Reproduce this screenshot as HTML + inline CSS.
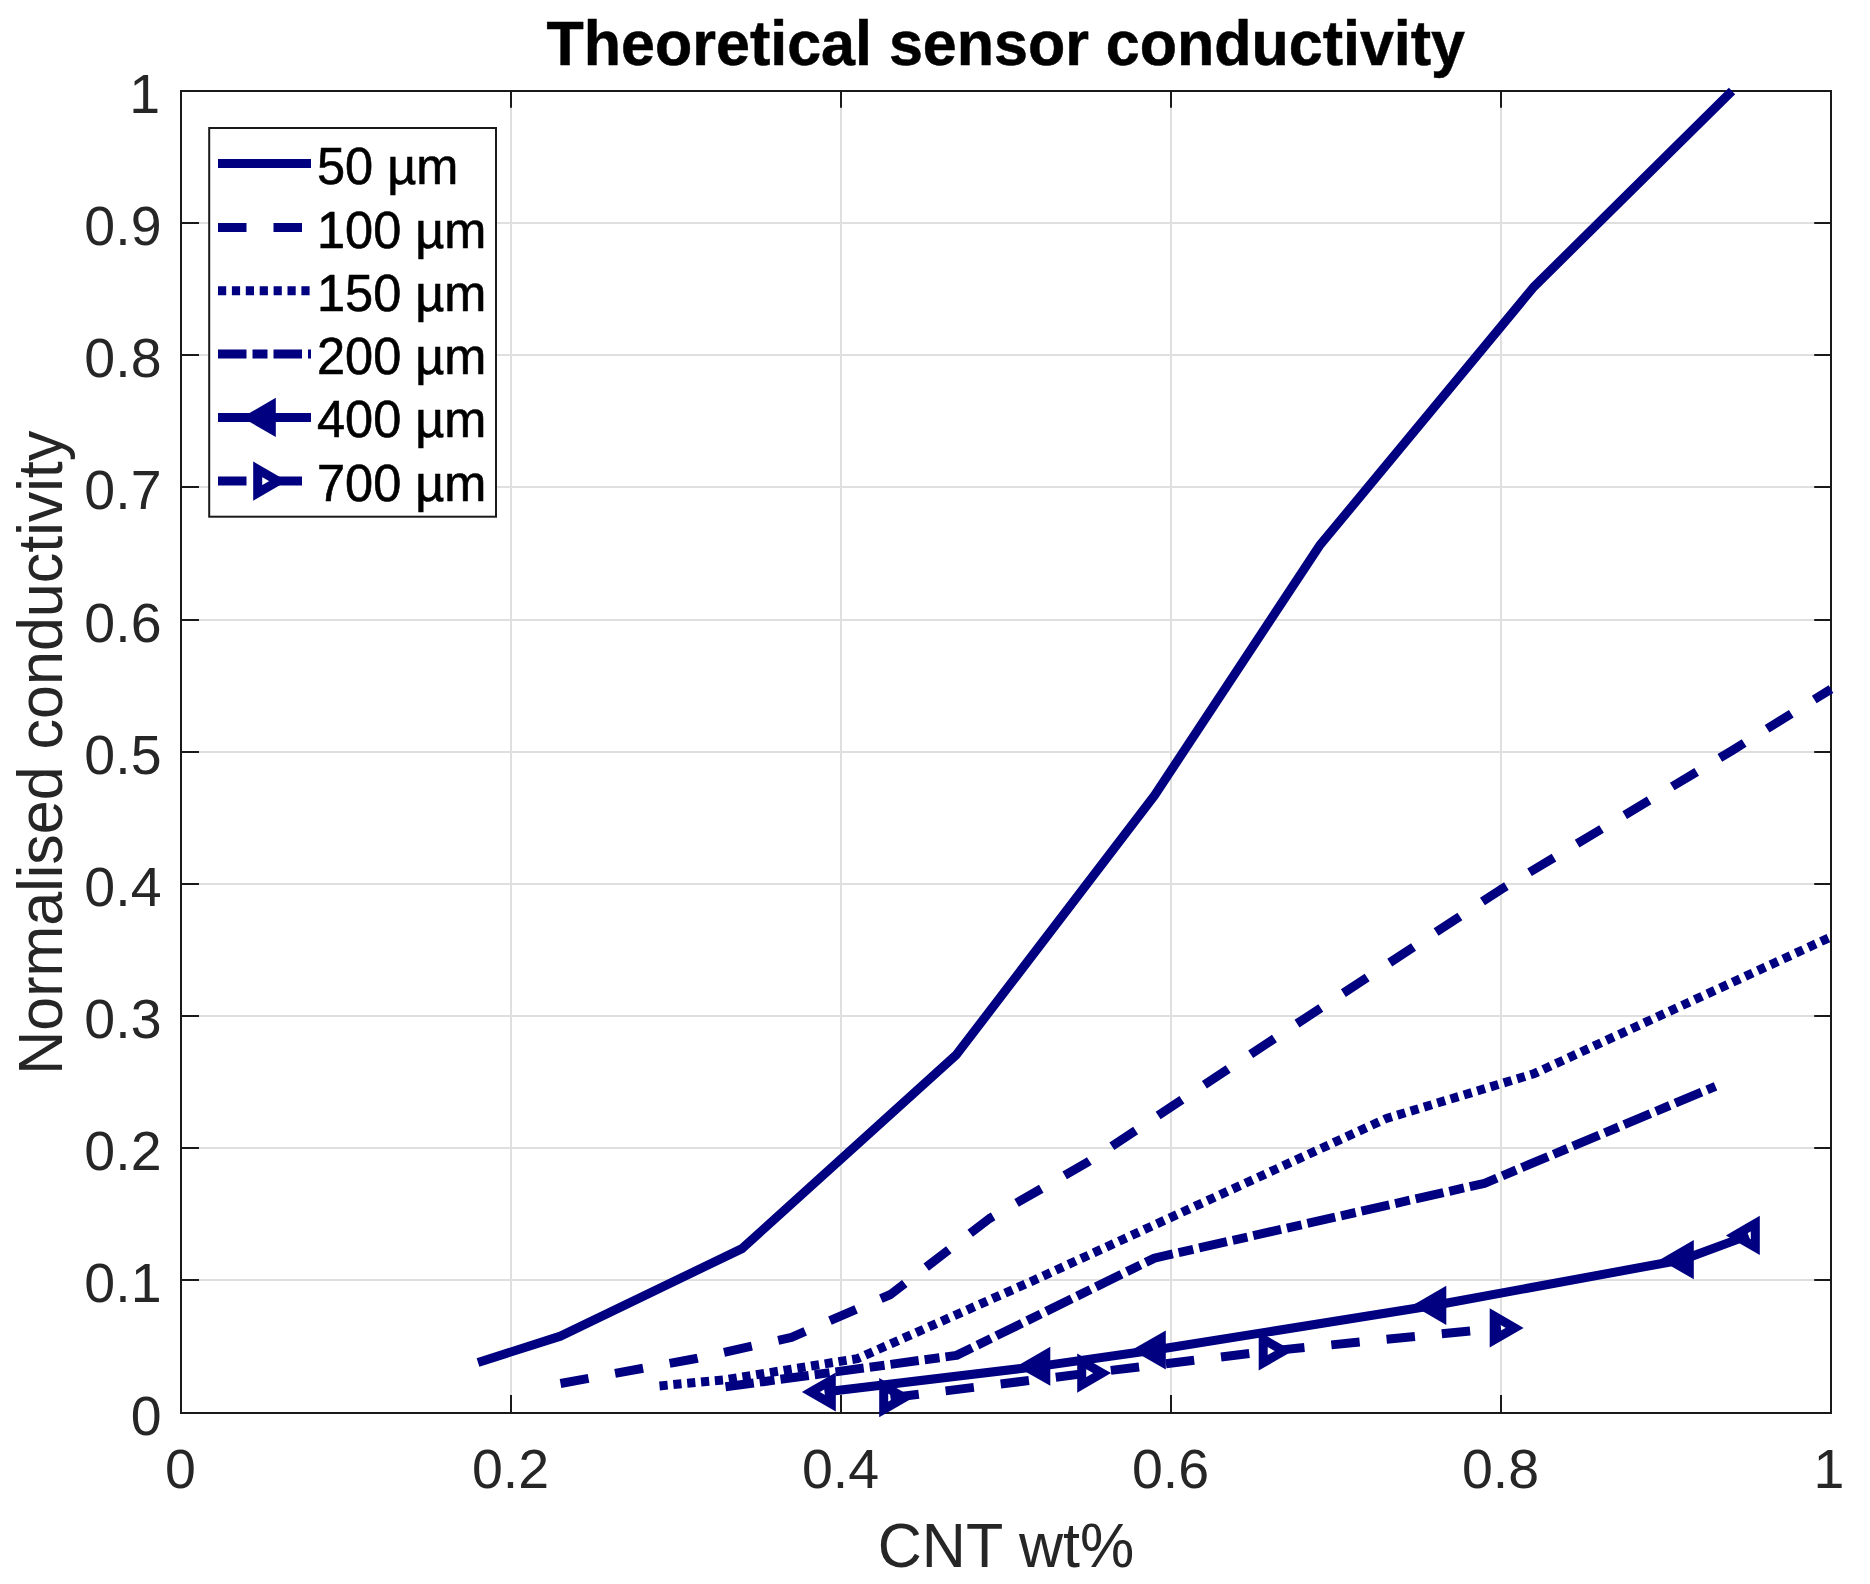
<!DOCTYPE html>
<html lang="en"><head><meta charset="utf-8"><title>Theoretical sensor conductivity</title>
<style>html,body{margin:0;padding:0;background:#fff;}body{width:1870px;height:1584px;overflow:hidden;}svg{display:block;}text{font-family:"Liberation Sans",sans-serif;}</style></head><body>
<svg width="1870" height="1584" viewBox="0 0 1870 1584">
<rect width="1870" height="1584" fill="#fff"/>
<path d="M511.0 91.0V1413.0M841.0 91.0V1413.0M1171.0 91.0V1413.0M1501.0 91.0V1413.0M181.0 1280.0H1831.0M181.0 1148.0H1831.0M181.0 1016.0H1831.0M181.0 884.0H1831.0M181.0 752.0H1831.0M181.0 620.0H1831.0M181.0 487.0H1831.0M181.0 355.0H1831.0M181.0 223.0H1831.0" stroke="#dfdfdf" stroke-width="2" fill="none"/>
<path d="M511.0 1413.0v-18.0M511.0 91.0v16.8M841.0 1413.0v-18.0M841.0 91.0v16.8M1171.0 1413.0v-18.0M1171.0 91.0v16.8M1501.0 1413.0v-18.0M1501.0 91.0v16.8M181.0 1280.0h18.0M1831.0 1280.0h-16.8M181.0 1148.0h18.0M1831.0 1148.0h-16.8M181.0 1016.0h18.0M1831.0 1016.0h-16.8M181.0 884.0h18.0M1831.0 884.0h-16.8M181.0 752.0h18.0M1831.0 752.0h-16.8M181.0 620.0h18.0M1831.0 620.0h-16.8M181.0 487.0h18.0M1831.0 487.0h-16.8M181.0 355.0h18.0M1831.0 355.0h-16.8M181.0 223.0h18.0M1831.0 223.0h-16.8" stroke="#1a1a1a" stroke-width="2" fill="none"/>
<rect x="181.0" y="91.0" width="1650.0" height="1322.0" fill="none" stroke="#1a1a1a" stroke-width="2"/>
<g fill="none" stroke="#000080" stroke-width="9.0" stroke-linejoin="round">
<polyline points="478.0,1362.5 560.5,1336.1 742.0,1248.6 956.5,1054.6 1154.5,795.5 1319.5,545.7 1534.0,286.7 1732.0,91.0"/>
<polyline points="560.5,1383.5 697.5,1358.2 791.5,1337.4 890.5,1294.5 989.5,1218.5 1088.5,1161.6 1270.0,1041.4 1501.0,889.4 1732.0,750.6 1831.0,689.1" stroke-dasharray="28.5 27"/>
<polyline points="659.5,1385.9 725.5,1379.7 857.5,1358.6 1033.2,1280.6 1386.3,1118.5 1534.0,1073.7 1831.0,936.9 1831.0,936.9" stroke-dasharray="8.2 5.7"/>
<polyline points="725.5,1386.8 956.5,1355.4 1154.5,1258.1 1484.5,1183.3 1715.5,1086.3" stroke-dasharray="28.5 6 15 6"/>
</g>
<g fill="#fff" stroke="#000080" stroke-width="9.0" stroke-linejoin="miter" stroke-miterlimit="10">
<polygon points="810.9,1392.0 831.3,1380.2 831.3,1403.8"/>
<polygon points="1025.4,1366.4 1045.8,1354.6 1045.8,1378.1"/>
<polygon points="1140.9,1350.0 1161.3,1338.2 1161.3,1361.7"/>
<polygon points="1421.4,1305.3 1441.8,1293.5 1441.8,1317.1"/>
<polygon points="1668.9,1259.7 1689.3,1247.9 1689.3,1271.5"/>
<polygon points="1734.9,1235.4 1755.3,1223.6 1755.3,1247.2"/>
</g>
<polyline points="824.5,1392.0 1039.0,1366.4 1154.5,1350.0 1435.0,1305.3 1682.5,1259.7 1748.5,1235.4" fill="none" stroke="#000080" stroke-width="9.0" stroke-linejoin="round"/>
<g fill="#fff" stroke="#000080" stroke-width="9.0" stroke-linejoin="miter" stroke-miterlimit="10">
<polygon points="904.1,1397.7 883.7,1385.9 883.7,1409.5"/>
<polygon points="1102.1,1373.1 1081.7,1361.3 1081.7,1384.9"/>
<polygon points="1283.6,1351.0 1263.2,1339.2 1263.2,1362.8"/>
<polygon points="1514.6,1327.9 1494.2,1316.1 1494.2,1339.7"/>
</g>
<polyline points="890.5,1397.7 1088.5,1373.1 1270.0,1351.0 1501.0,1327.9" fill="none" stroke="#000080" stroke-width="9.0" stroke-linejoin="round" stroke-dasharray="28.5 27"/>
<g font-size="55.5" fill="#262626">
<text transform="translate(180.5,1488.0) scale(1,1.010)" text-anchor="middle">0</text>
<text transform="translate(510.5,1488.0) scale(1,1.010)" text-anchor="middle">0.2</text>
<text transform="translate(840.5,1488.0) scale(1,1.010)" text-anchor="middle">0.4</text>
<text transform="translate(1170.5,1488.0) scale(1,1.010)" text-anchor="middle">0.6</text>
<text transform="translate(1500.5,1488.0) scale(1,1.010)" text-anchor="middle">0.8</text>
<text transform="translate(1829.0,1488.0) scale(1,1.010)" text-anchor="middle">1</text>
<text transform="translate(161.5,1435.3) scale(1,1.010)" text-anchor="end">0</text>
<text transform="translate(161.5,1302.3) scale(1,1.010)" text-anchor="end">0.1</text>
<text transform="translate(161.5,1170.3) scale(1,1.010)" text-anchor="end">0.2</text>
<text transform="translate(161.5,1038.3) scale(1,1.010)" text-anchor="end">0.3</text>
<text transform="translate(161.5,906.3) scale(1,1.010)" text-anchor="end">0.4</text>
<text transform="translate(161.5,774.3) scale(1,1.010)" text-anchor="end">0.5</text>
<text transform="translate(161.5,642.3) scale(1,1.010)" text-anchor="end">0.6</text>
<text transform="translate(161.5,509.3) scale(1,1.010)" text-anchor="end">0.7</text>
<text transform="translate(161.5,377.3) scale(1,1.010)" text-anchor="end">0.8</text>
<text transform="translate(161.5,245.3) scale(1,1.010)" text-anchor="end">0.9</text>
<text transform="translate(160.0,113.3) scale(1,1.010)" text-anchor="end">1</text>
</g>
<text transform="translate(1006,1567) scale(1,1.030)" font-size="61" text-anchor="middle" fill="#262626">CNT wt%</text>
<text transform="translate(62.3,752.8) rotate(-90) scale(1,1.030)" font-size="61" text-anchor="middle" fill="#262626">Normalised conductivity</text>
<text transform="translate(1005.8,65.2) scale(1,1.030)" font-size="61" font-weight="bold" text-anchor="middle" fill="#000" stroke="#000" stroke-width="0.5">Theoretical sensor conductivity</text>
<rect x="209.2" y="128" width="286.8" height="388.7" fill="#fff" stroke="#1a1a1a" stroke-width="2"/>
<g fill="none" stroke="#000080" stroke-width="9.0">
<path d="M218 163.5H311"/>
<path d="M218 227.5H311" stroke-dasharray="28.5 27"/>
<path d="M218 290.7H311" stroke-dasharray="8.2 5.7"/>
<path d="M218 354.1H311" stroke-dasharray="28.5 6 15 6"/>
</g>
<g fill="#fff" stroke="#000080" stroke-width="9.0" stroke-linejoin="miter" stroke-miterlimit="10"><polygon points="250.9,417.4 271.3,405.6 271.3,429.2"/></g>
<path d="M218 417.4H311" fill="none" stroke="#000080" stroke-width="9.0"/>
<g fill="#fff" stroke="#000080" stroke-width="9.0" stroke-linejoin="miter" stroke-miterlimit="10"><polygon points="278.1,481.1 257.7,469.3 257.7,492.9"/></g>
<path d="M218 481.1H311" fill="none" stroke="#000080" stroke-width="9.0" stroke-dasharray="28.5 27"/>
<g font-size="50.5" fill="#000" stroke="#000" stroke-width="0.6">
<text transform="translate(317.0,183.5) scale(1,1.040)">50 µm</text>
<text transform="translate(317.0,247.5) scale(1,1.040)">100 µm</text>
<text transform="translate(317.0,310.7) scale(1,1.040)">150 µm</text>
<text transform="translate(317.0,374.1) scale(1,1.040)">200 µm</text>
<text transform="translate(317.0,437.4) scale(1,1.040)">400 µm</text>
<text transform="translate(317.0,501.1) scale(1,1.040)">700 µm</text>
</g>
</svg></body></html>
